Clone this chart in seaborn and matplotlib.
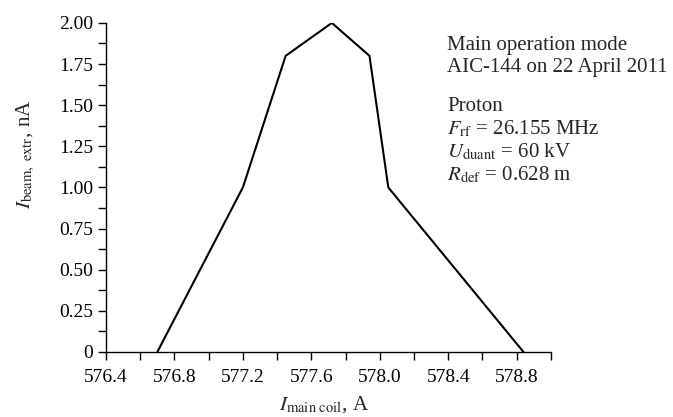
import numpy as np
import pandas as pd
import seaborn as sns
import matplotlib.pyplot as plt
from matplotlib.ticker import MultipleLocator, FuncFormatter

# data
i_coil = [576.70, 577.20, 577.45, 577.72, 577.94, 578.05, 578.84]
i_beam = [0.0, 1.0, 1.8, 2.0, 1.8, 1.0, 0.0]

info_lines = ['Main operation mode', 'AIC-144 on 22 April 2011', '',
              'Proton',
              r'$F_\mathrm{rf}$ = 26.155 MHz',
              r'$U_\mathrm{duant}$ = 60 kV',
              r'$R_\mathrm{def}$ = 0.628 m']
info_baseline = [50, 72, None, 111, 134, 157, 180]

sns.set_style('ticks')
plt.rcParams['font.family'] = ['Liberation Serif', 'DejaVu Serif']
plt.rcParams['mathtext.fontset'] = 'stix'

df = pd.DataFrame({'x': i_coil, 'y': i_beam})

fig = plt.figure(figsize=(6.73, 4.17), dpi=100)
ax = fig.add_axes([0.1575, 0.156, 0.661, 0.789])
sns.lineplot(data=df, x='x', y='y', ax=ax, color='black', linewidth=1.5, sort=False)

ax.set_xlim(576.4, 579.0)
ax.set_ylim(0, 2.0)
ax.xaxis.set_major_locator(MultipleLocator(0.4))
ax.xaxis.set_minor_locator(MultipleLocator(0.2))
ax.yaxis.set_major_locator(MultipleLocator(0.25))
ax.yaxis.set_minor_locator(MultipleLocator(0.125))
ax.xaxis.set_major_formatter(FuncFormatter(lambda v, p: f'{v:.1f}'))
ax.yaxis.set_major_formatter(FuncFormatter(lambda v, p: '0' if abs(v) < 1e-9 else f'{v:.2f}'))
ax.tick_params(which='both', direction='out', length=6, width=1, colors='black',
               labelsize=14, pad=3)
ax.tick_params(axis='x', which='both', pad=6)
for s in ['left', 'bottom']:
    ax.spines[s].set_linewidth(1)
    ax.spines[s].set_color('black')
sns.despine(ax=ax)

ax.set_xlabel(r'$I_\mathrm{main\ coil}$, A', fontsize=15)
ax.set_ylabel(r'$I_\mathrm{beam,\ extr}$, nA', fontsize=15)
ax.xaxis.set_label_coords(0.49, -0.128)
ax.yaxis.set_label_coords(-0.155, 0.6)

for line, yb in zip(info_lines, info_baseline):
    if yb is not None:
        fig.text(447 / 673, 1 - yb / 417, line, fontsize=15, va='baseline', ha='left')

fig.savefig('out.png', dpi=100)
